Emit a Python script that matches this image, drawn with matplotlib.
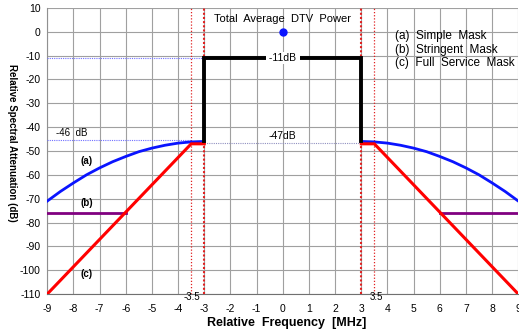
# Máscara espectral DTV
import numpy as np
import matplotlib.pyplot as plt

plt.rcParams['font.family'] = ['Liberation Sans', 'DejaVu Sans']
plt.rcParams['axes.unicode_minus'] = False

# Datos
# (a) máscara simple, lado izquierdo (se refleja para el derecho)
simple_f = [-9, -8.5, -8, -7.5, -7, -6.5, -6, -5.5, -5, -4.5, -4, -3.5, -3]
simple_db = [-71, -67, -63.4, -60, -57.1, -54.5, -52.3, -50.3, -48.8, -47.6, -46.7, -46.2, -46]
# (b) máscara estricta
strict_f = [-9, -6]
strict_db = [-76, -76]
# (c) máscara de servicio completo
full_f = [-9, -3.5, -3]
full_db = [-110, -47, -47]
# potencia en banda
dtv_f = [-3, -3, 3, 3]
dtv_db = [-46, -11, -11, -46]
xticks = list(range(-9, 10))
yticks = list(range(-110, 11, 10))

fig = plt.figure(figsize=(5.19, 3.30), dpi=100)
ax = fig.add_axes([0.0911, 0.109, 0.9075, 0.867])

for s in (-1, 1):
    sf = np.array(simple_f) * s
    ax.plot(sf, simple_db, color='#0a14ff', lw=2, zorder=4)
    ax.plot(np.array(strict_f) * s, strict_db, color='#800080', lw=2, zorder=4)
    ax.plot(np.array(full_f) * s, full_db, color='#ff0000', lw=2.2, zorder=5)
    ax.axvline(3 * s, color='#e02020', lw=1.5, ls=(0, (1, 1)), zorder=3)
    ax.axvline(3.5 * s, color='#e02020', lw=0.9, ls=(0, (1, 1.5)), zorder=3)

ax.plot(dtv_f, dtv_db, color='black', lw=2.8, zorder=6, solid_joinstyle='miter')

# líneas de referencia punteadas
ax.plot([-9, -3], [-11, -11], color='#7070ff', lw=0.8, ls=(0, (1, 1)), zorder=3)
ax.plot([-9, -3.5], [-45.5, -45.5], color='#7070ff', lw=0.8, ls=(0, (1, 1)), zorder=3)
ax.plot([-3.5, 3], [-46.5, -46.5], color='#9090c0', lw=0.8, ls=(0, (1, 1)), zorder=3)

ax.plot([0], [0], 'o', color='#0a14ff', ms=5, zorder=7)

ax.set_xlim(-9, 9)
ax.set_ylim(-110, 10)
ax.set_xticks(xticks)
ax.set_yticks(yticks)
ax.grid(True, color='#a0a0a0', lw=0.8)
ax.set_axisbelow(True)
ax.tick_params(length=0, labelsize=7.5)
ax.tick_params(axis='x', pad=7)
ax.tick_params(axis='y', pad=5)
for side in ('top', 'right'):
    ax.spines[side].set_visible(False)
ax.spines['left'].set_color('#909090')
ax.spines['bottom'].set_color('#707070')

ax.text(0, 5.3, 'Total  Average  DTV  Power', ha='center', va='center', fontsize=8)
ax.text(0, -11, ' -11dB ', ha='center', va='center', fontsize=7.5, zorder=8,
        bbox=dict(facecolor='white', edgecolor='none', pad=0.5))
ax.text(0, -43.8, '-47dB', ha='center', va='center', fontsize=7.5)
ax.text(-8.06, -42.5, '-46  dB', ha='center', va='center', fontsize=7)
ax.text(-7.5, -54.2, '(a)', ha='center', va='center', fontsize=7, fontweight='bold')
ax.text(-7.5, -71.7, '(b)', ha='center', va='center', fontsize=7, fontweight='bold')
ax.text(-7.5, -101.7, '(c)', ha='center', va='center', fontsize=7, fontweight='bold')
ax.text(-3.47, -111.4, '-3.5', ha='center', va='center', fontsize=7, clip_on=False)
ax.text(3.58, -111.4, '3.5', ha='center', va='center', fontsize=7, clip_on=False)

ax.text(4.29, -1.8, '(a)  Simple  Mask', ha='left', va='center', fontsize=8.5)
ax.text(4.29, -7.7, '(b)  Stringent  Mask', ha='left', va='center', fontsize=8.5)
ax.text(4.29, -13.1, '(c)  Full  Service  Mask', ha='left', va='center', fontsize=8.5)

fig.text(287 / 519, 1 - 323 / 330, 'Relative  Frequency  [MHz]', ha='center', va='center',
         fontsize=9, fontweight='bold')
fig.text(12 / 519, 1 - 143 / 330, 'Relative Spectral Attenuation (dB)', ha='center',
         va='center', rotation=270, fontsize=7, fontweight='bold')

fig.savefig('out.png', dpi=100)
